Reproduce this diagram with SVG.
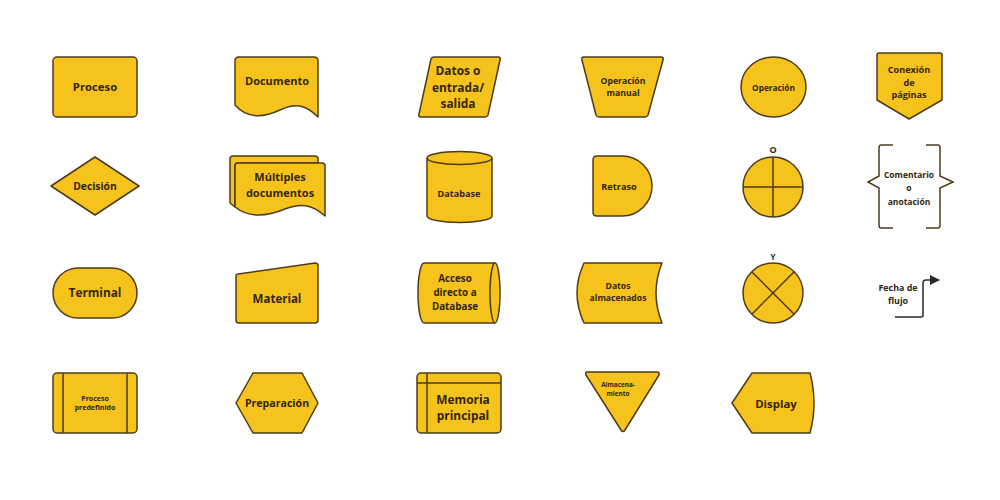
<svg xmlns="http://www.w3.org/2000/svg" width="1000" height="500" viewBox="0 0 1000 500">
<defs>
<style>
.s{fill:#F6C21C;stroke:#4d3c1c;stroke-width:1.5;stroke-linejoin:round}
.l{fill:none;stroke:#4d3c1c;stroke-width:1.5}
.t{font-family:"Open Sans","Liberation Sans",sans-serif;font-weight:700;fill:#33270f;text-anchor:middle;dominant-baseline:central}
</style>
<marker id="ah" viewBox="0 0 10 10" refX="9" refY="5" markerWidth="7" markerHeight="7" orient="auto"><path d="M0,0 L10,5 L0,10 z" fill="#2a2a2a"/></marker>
</defs>
<rect width="1000" height="500" fill="#fff"/>

<g id="proceso"><rect class="s" x="53" y="57" width="84" height="60" rx="4"/><text class="t" x="95" y="86" font-size="11.3">Proceso</text></g>

<g id="documento"><path class="s" d="M239,57 H314 Q318,57 318,61 V117 C305,104 295,103 280,110 C265,117 248,120 235,105 V61 Q235,57 239,57 Z"/><text class="t" x="277" y="80" font-size="11">Documento</text></g>

<g id="datos-es"><path class="s" d="M434,57 H498 Q501,57 500,60 L488,115 Q487,117 485,117 H421 Q418,117 419,114 L431,59 Q432,57 434,57 Z"/><text class="t" x="458" y="70" font-size="11.9">Datos o</text><text class="t" x="458" y="87" font-size="11.9">entrada/</text><text class="t" x="458" y="103" font-size="11.9">salida</text></g>

<g id="operacion-manual"><path class="s" d="M584,57 H661 Q664,57 663,60 L648,115 Q647,117 645,117 H599 Q597,117 596,115 L582,60 Q581,57 584,57 Z"/><text class="t" x="623" y="81" font-size="8.7">Operación</text><text class="t" x="623" y="93" font-size="8.7">manual</text></g>

<g id="operacion"><ellipse class="s" cx="773.5" cy="87" rx="32.5" ry="30"/><text class="t" x="773.5" y="87" font-size="8.3">Operación</text></g>

<g id="conexion"><path class="s" d="M879,53 H940 Q942,53 942,55 V100 L909,119 L877,100 V55 Q877,53 879,53 Z"/><text class="t" x="909" y="69" font-size="9.1">Conexión</text><text class="t" x="909" y="82" font-size="9.1">de</text><text class="t" x="909" y="94" font-size="9.1">páginas</text></g>

<g id="decision"><path class="s" d="M95,157 L139,186 L95,215 L51,186 Z"/><text class="t" x="95" y="186" font-size="10.3">Decisión</text></g>

<g id="multiples-documentos"><path class="s" d="M233,156 H315 Q318,156 318,159 V163 H238 Q235,163 235,166 V207 L230,203 V159 Q230,156 233,156 Z"/><path class="s" d="M238,163 H322 Q325,163 325,166 V216 C312,204 300,203 285,209 C268,216 250,219 235,207 V166 Q235,163 238,163 Z"/><text class="t" x="280" y="176" font-size="11">Múltiples</text><text class="t" x="280" y="192" font-size="11">documentos</text></g>

<g id="database"><path class="s" d="M427,158 A32.5,6.5 0 0 1 492,158 V216 A32.5,6.5 0 0 1 427,216 Z"/><path class="l" d="M427,158 A32.5,6.5 0 0 0 492,158"/><text class="t" x="459" y="193" font-size="9.1">Database</text></g>

<g id="retraso"><path class="s" d="M597,156 H622 A30,30 0 0 1 622,216 H597 Q593,216 593,212 V160 Q593,156 597,156 Z"/><text class="t" x="619" y="186" font-size="9.2">Retraso</text></g>

<g id="o-circle"><circle class="s" cx="773" cy="187" r="30"/><path class="l" d="M773,157 V217 M743,187 H803"/><text class="t" x="773" y="149" font-size="9">O</text></g>

<g id="comentario"><path class="l" stroke="#333" d="M893,145 H881 Q879,145 879,148 V176 L868,182 L879,188 V225 Q879,228 881,228 H893"/><path class="l" stroke="#333" d="M926,145 H938 Q940,145 940,148 V176 L953,182 L940,188 V225 Q940,228 938,228 H926"/><text class="t" x="909" y="174" font-size="8.5" fill="#222">Comentario</text><text class="t" x="909" y="187" font-size="8.5" fill="#222">o</text><text class="t" x="909" y="201" font-size="8.5" fill="#222">anotación</text></g>

<g id="terminal"><rect class="s" x="53" y="268" width="84" height="50" rx="25"/><text class="t" x="95" y="292" font-size="11.8">Terminal</text></g>

<g id="material"><path class="s" d="M238,274 L315,263 Q318,263 318,266 V320 Q318,323 315,323 H239 Q236,323 236,320 V276 Q236,274 238,274 Z"/><text class="t" x="277" y="298" font-size="11.5">Material</text></g>

<g id="acceso"><path class="s" d="M424,263 H495 A5,30 0 0 1 495,323 H424 A6,30 0 0 1 424,263 Z"/><path class="l" d="M495,263 A5,30 0 0 0 495,323"/><text class="t" x="455" y="278" font-size="9.8">Acceso</text><text class="t" x="455" y="292" font-size="9.8">directo a</text><text class="t" x="455" y="306" font-size="9.8">Database</text></g>

<g id="datos-almacenados"><path class="s" d="M584,263 H662 Q650,293 662,323 H584 Q570,293 584,263 Z"/><text class="t" x="618" y="286" font-size="8.6">Datos</text><text class="t" x="618" y="298" font-size="8.6">almacenados</text></g>

<g id="y-circle"><circle class="s" cx="773" cy="293" r="30"/><path class="l" d="M751.8,271.8 L794.2,314.2 M794.2,271.8 L751.8,314.2"/><text class="t" x="773" y="256" font-size="8">Y</text></g>

<g id="fecha-flujo"><text class="t" x="898" y="287" font-size="8.9" fill="#222">Fecha de</text><text class="t" x="898" y="300" font-size="8.9" fill="#222">flujo</text></g>

<g id="proceso-predefinido"><rect class="s" x="53" y="373" width="84" height="60" rx="4"/><path class="l" d="M63,373 V433 M127,373 V433"/><text class="t" x="95" y="398" font-size="7">Proceso</text><text class="t" x="95" y="407" font-size="7">predefinido</text></g>

<g id="preparacion"><path class="s" d="M253,373 H302 L318,403 L302,433 H253 L236,403 Z"/><text class="t" x="277" y="403" font-size="10.6">Preparación</text></g>

<g id="memoria"><rect class="s" x="417" y="373" width="84" height="60" rx="4"/><path class="l" d="M427,373 V433 M417,383 H501"/><text class="t" x="463" y="399" font-size="11.9">Memoria</text><text class="t" x="463" y="415" font-size="11.9">principal</text></g>

<g id="almacenamiento"><path class="s" d="M587,372 H657 Q660,372 659,375 L625,430 Q623,433 621,430 L586,375 Q585,372 587,372 Z"/><text class="t" x="618" y="384" font-size="6.4">Almacena-</text><text class="t" x="618" y="393" font-size="6.4">miento</text></g>

<g id="display"><path class="s" d="M752,373 H810 Q818,403 810,433 H752 L732,403 Z"/><text class="t" x="776" y="403" font-size="11.4">Display</text></g>

<g id="connectors"><path d="M895,317 H921 Q923,317 923,315 V283 Q923,280 926,280 H939" fill="none" stroke="#2a2a2a" stroke-width="1.5" marker-end="url(#ah)"/></g>
</svg>
